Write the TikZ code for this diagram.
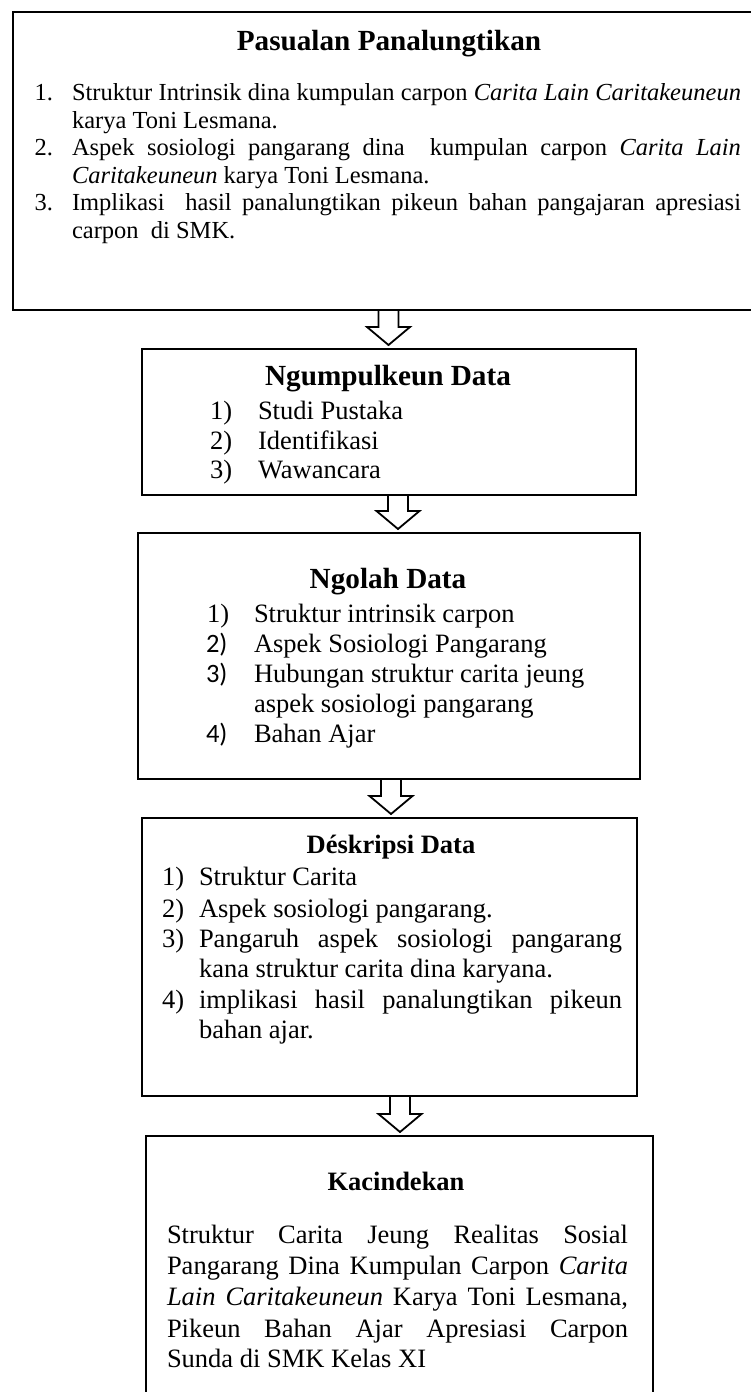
\documentclass[tikz,border=0pt]{standalone}
\usepackage{fontspec}
\setmainfont{Liberation Serif}
\newfontfamily\calib{Carlito}
\usetikzlibrary{calc}
\newcommand\fA{\fontsize{24.5}{27.6}\selectfont}
\newcommand\fB{\fontsize{26.5}{30}\selectfont}
\newcommand\fT{\fontsize{29.2}{32}\selectfont\bfseries}
\newcommand\fTs{\fontsize{26.5}{30}\selectfont\bfseries}
\newcommand\jline[2]{\makebox[#1][s]{#2}}
\newcommand\blockarrow[3]{%
  \draw[barrow] ($(#1.south -| #3)+(-10,0)$) -- ($(#2.north -| #3)+(-10,-22)$)
    -- ($(#2.north -| #3)+(-21.5,-22)$) -- ($(#2.north -| #3)+(0,-4)$)
    -- ($(#2.north -| #3)+(21.5,-22)$) -- ($(#2.north -| #3)+(10,-22)$)
    -- ($(#1.south -| #3)+(10,0)$);}
\begin{document}
\begin{tikzpicture}[x=1pt,y=-1pt,
  box/.style={draw, line width=2pt, inner sep=0pt, outer sep=0pt},
  t/.style={anchor=base west, inner sep=0pt, outer sep=0pt},
  ttl/.style={anchor=base, inner sep=0pt, outer sep=0pt},
  barrow/.style={draw, line width=1.8pt, line join=miter}]
\useasboundingbox (0,0) rectangle (751,1392);
\clip (0,0) rectangle (751,1392);
\fill[white] (0,0) rectangle (751,1392);

% ---------- boxes ----------
\node[box, minimum width=760, minimum height=298] (b1) at (393,161) {};
\node[box, minimum width=494, minimum height=146] (b2) at (389,422) {};
\node[box, minimum width=502, minimum height=246] (b3) at (389,656) {};
\node[box, minimum width=495, minimum height=278] (b4) at (389.5,957) {};
\node[box, minimum width=507, minimum height=280] (b5) at (399.5,1276) {};

% ---------- arrows ----------
\coordinate (x1) at (388.5,0);
\coordinate (x2) at (398,0);
\coordinate (x3) at (391,0);
\coordinate (x4) at (400,0);
\blockarrow{b1}{b2}{x1}
\blockarrow{b2}{b3}{x2}
\blockarrow{b3}{b4}{x3}
\blockarrow{b4}{b5}{x4}

% ---------- box 1 ----------
\node[ttl, font=\fT] (t1) at (389,50) {Pasualan Panalungtikan};
\node[t, font=\fA] (n11) at (34.5,100) {1.};
\node[t, font=\fA] (l11) at (72,100) {\jline{669pt}{Struktur Intrinsik dina kumpulan carpon \textit{Carita Lain Caritakeuneun}}};
\node[t, font=\fA] (l12) at (72,128) {karya Toni Lesmana.};
\node[t, font=\fA] (n12) at (34.5,155) {2.};
\node[t, font=\fA] (l13) at (72,155) {\jline{669pt}{Aspek sosiologi pangarang dina\ \ kumpulan carpon \textit{Carita Lain}}};
\node[t, font=\fA] (l14) at (72,183) {\textit{Caritakeuneun} karya Toni Lesmana.};
\node[t, font=\fA] (n13) at (34.5,210) {3.};
\node[t, font=\fA] (l15) at (72,210) {\jline{669pt}{Implikasi\ \ hasil panalungtikan pikeun bahan pangajaran apresiasi}};
\node[t, font=\fA] (l16) at (72,238) {carpon\ \ di SMK.};

% ---------- box 2 ----------
\node[ttl, font=\fT] (t2) at (388,385) {Ngumpulkeun Data};
\node[t, font=\fB] (n21) at (210,419) {1)};
\node[t, font=\fB] (l21) at (258,419) {Studi Pustaka};
\node[t, font=\fB] (n22) at (210,449) {2)};
\node[t, font=\fB] (l22) at (258,449) {Identifikasi};
\node[t, font=\fB] (n23) at (210,478) {3)};
\node[t, font=\fB] (l23) at (258,478) {Wawancara};

% ---------- box 3 ----------
\node[ttl, font=\fT] (t3) at (388,588) {Ngolah Data};
\node[t, font=\fB] (n31) at (207,622) {1)};
\node[t, font=\fB] (l31) at (254,622) {Struktur intrinsik carpon};
\node[t, font=\fB\calib] (n32) at (206,652) {2)};
\node[t, font=\fB] (l32) at (254,652) {Aspek Sosiologi Pangarang};
\node[t, font=\fB\calib] (n33) at (206,682) {3)};
\node[t, font=\fB] (l33) at (254,682) {Hubungan struktur carita jeung};
\node[t, font=\fB] (l34) at (254,712) {aspek sosiologi pangarang};
\node[t, font=\fB\calib] (n34) at (206,742) {4)};
\node[t, font=\fB] (l35) at (254,742) {Bahan Ajar};

% ---------- box 4 ----------
\node[ttl, font=\fTs] (t4) at (391,853) {Déskripsi Data};
\node[t, font=\fB] (n41) at (162,885) {1)};
\node[t, font=\fB] (l41) at (199,885) {Struktur Carita};
\node[t, font=\fB] (n42) at (162,917) {2)};
\node[t, font=\fB] (l42) at (199,917) {Aspek sosiologi pangarang.};
\node[t, font=\fB] (n43) at (162,947) {3)};
\node[t, font=\fB] (l43) at (199,947) {\jline{423pt}{Pangaruh aspek sosiologi pangarang}};
\node[t, font=\fB] (l44) at (199,977) {kana struktur carita dina karyana.};
\node[t, font=\fB] (n44) at (162,1008) {4)};
\node[t, font=\fB] (l45) at (199,1008) {\jline{423pt}{implikasi hasil panalungtikan pikeun}};
\node[t, font=\fB] (l46) at (199,1038) {bahan ajar.};

% ---------- box 5 ----------
\node[ttl, font=\fTs] (t5) at (396,1190) {Kacindekan};
\node[t, font=\fB] (l51) at (167,1243) {\jline{461pt}{Struktur Carita Jeung Realitas Sosial}};
\node[t, font=\fB] (l52) at (167,1274) {\jline{461pt}{Pangarang Dina Kumpulan Carpon \textit{Carita}}};
\node[t, font=\fB] (l53) at (167,1305) {\jline{461pt}{\textit{Lain Caritakeuneun} Karya Toni Lesmana,}};
\node[t, font=\fB] (l54) at (167,1337) {\jline{461pt}{Pikeun Bahan Ajar Apresiasi Carpon}};
\node[t, font=\fB] (l55) at (167,1367) {Sunda di SMK Kelas XI};
\end{tikzpicture}
\end{document}
